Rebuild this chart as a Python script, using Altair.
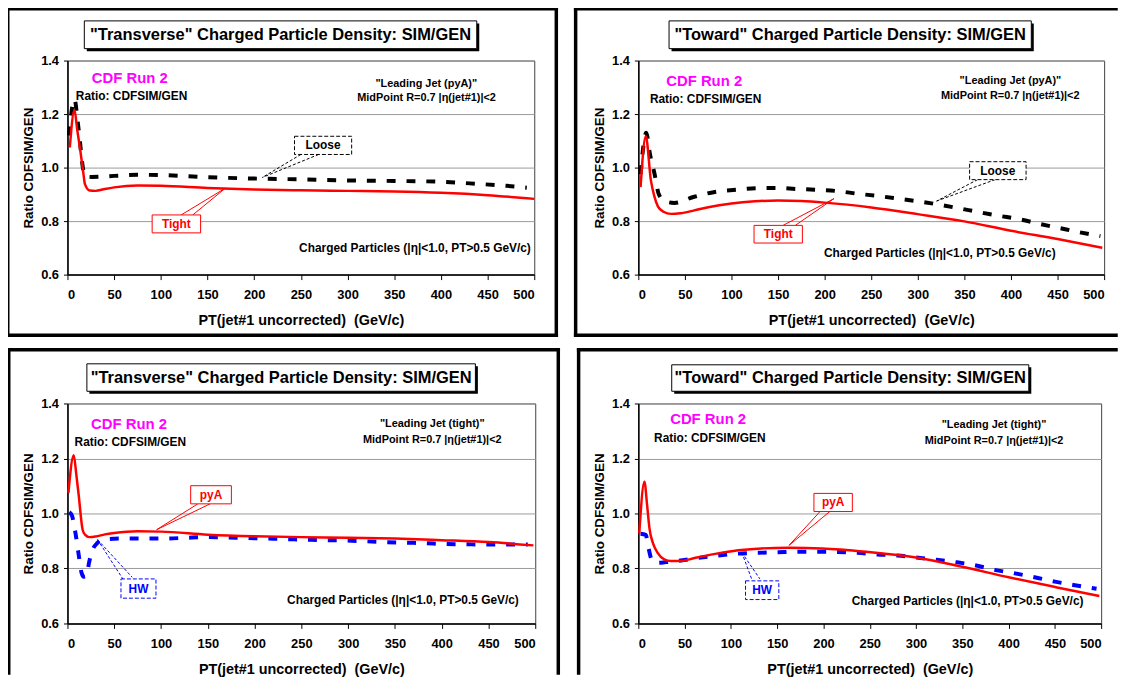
import altair as alt
import pandas as pd

FONT = "Liberation Sans"

# ---------------- data ----------------
# Top-left: "Transverse", Leading Jet (pyA): Tight (red) / Loose (black dashed)
tl_tight_pt = [2.5, 7.5, 10.5, 13.5, 17, 18.7, 24, 30, 40, 50, 75, 100, 150, 200, 250, 300, 350, 400, 450, 500]
tl_tight_ratio = [1.075, 1.215, 1.14, 1.07, 0.98, 0.938, 0.914, 0.913, 0.92, 0.926, 0.933, 0.932, 0.924, 0.918,
                  0.915, 0.913, 0.911, 0.906, 0.897, 0.883]
tl_loose_pt = [1.5, 7.5, 11, 13.5, 15.5, 19, 26, 50, 75, 100, 150, 200, 250, 300, 350, 400, 440, 470, 492]
tl_loose_ratio = [1.12, 1.255, 1.17, 1.093, 1.025, 0.968, 0.965, 0.969, 0.973, 0.972, 0.964, 0.959, 0.956, 0.952,
                  0.95, 0.947, 0.939, 0.932, 0.925]

# Top-right: "Toward", Leading Jet (pyA)
tr_tight_pt = [2.4, 8, 13.5, 17, 21, 27, 35, 45, 60, 75, 100, 125, 150, 175, 200, 250, 300, 350, 400, 450, 498]
tr_tight_ratio = [0.927, 1.117, 0.952, 0.895, 0.855, 0.835, 0.827, 0.829, 0.84, 0.852, 0.866, 0.874, 0.877, 0.875,
                  0.869, 0.851, 0.826, 0.799, 0.764, 0.733, 0.70]
tr_loose_pt = [2.4, 8.5, 12.5, 17.5, 22, 28, 38.7, 59, 82, 105, 127, 149, 170, 192, 214, 236, 257, 279, 300, 322,
               344, 365, 387, 409, 430, 452, 474, 496]
tr_loose_ratio = [0.975, 1.13, 1.05, 0.975, 0.9, 0.875, 0.868, 0.89, 0.909, 0.917, 0.923, 0.924, 0.92, 0.917, 0.912,
                  0.902, 0.894, 0.884, 0.874, 0.862, 0.848, 0.834, 0.82, 0.807, 0.79, 0.774, 0.758, 0.744]

# Bottom-left: "Transverse", Leading Jet (tight): pyA (red) / HW (blue dashed)
bl_pya_pt = [1, 6.7, 9.5, 12, 16.2, 19, 23.2, 30, 40, 50, 75, 100, 150, 200, 250, 300, 350, 400, 450, 498]
bl_pya_ratio = [1.075, 1.212, 1.14, 1.067, 0.941, 0.922, 0.914, 0.916, 0.924, 0.929, 0.935, 0.934, 0.923, 0.917,
                0.914, 0.912, 0.909, 0.903, 0.896, 0.884]
bl_hw_pt = [2, 5, 8.5, 12, 15, 17.5, 20.5, 23, 26, 32, 38, 50, 60, 80, 103, 124, 147, 168, 188, 210, 231, 253,
            274, 296, 317, 339, 360, 382, 403, 425, 446, 468, 492]
bl_hw_ratio = [1.005, 0.99, 0.93, 0.85, 0.785, 0.77, 0.772, 0.82, 0.86, 0.893, 0.904, 0.908, 0.909, 0.909, 0.909,
               0.911, 0.914, 0.913, 0.911, 0.909, 0.907, 0.905, 0.903, 0.902, 0.899, 0.896, 0.894, 0.892, 0.889,
               0.888, 0.887, 0.887, 0.887]

# Bottom-right: "Toward", Leading Jet (tight)
br_pya_pt = [1, 6.6, 9.5, 12, 16, 20.9, 28, 35, 45.8, 61.9, 83, 108, 133, 163, 198.6, 249, 300, 350, 400, 451, 498]
br_pya_ratio = [0.927, 1.115, 1.03, 0.947, 0.89, 0.857, 0.833, 0.827, 0.827, 0.839, 0.853, 0.866, 0.873, 0.875,
                0.873, 0.86, 0.84, 0.806, 0.768, 0.732, 0.70]
br_hw_pt = [2.4, 8, 11, 14, 19, 30, 42, 62, 83, 108, 130, 151, 172, 194, 215, 237, 258, 280, 300, 322, 343, 365,
            385, 407, 428, 450, 470, 495]
br_hw_ratio = [0.926, 0.922, 0.875, 0.835, 0.82, 0.823, 0.827, 0.837, 0.846, 0.854, 0.857, 0.859, 0.861, 0.861,
               0.86, 0.857, 0.851, 0.847, 0.84, 0.832, 0.823, 0.811, 0.795, 0.782, 0.768, 0.752, 0.74, 0.726]

# ---------------- text ----------------
TITLES = ['"Transverse" Charged Particle Density: SIM/GEN',
          '"Toward" Charged Particle Density: SIM/GEN',
          '"Transverse" Charged Particle Density: SIM/GEN',
          '"Toward" Charged Particle Density: SIM/GEN']
JETS = ['"Leading Jet (pyA)"', '"Leading Jet (pyA)"', '"Leading Jet (tight)"', '"Leading Jet (tight)"']
MIDPOINT = "MidPoint R=0.7 |η(jet#1)|<2"
CHARGED = "Charged Particles (|η|<1.0, PT>0.5 GeV/c)"
CDF = "CDF Run 2"
RATIO_TXT = "Ratio: CDFSIM/GEN"
XTITLE = "PT(jet#1 uncorrected) \u00a0(GeV/c)"
YTITLE = "Ratio CDFSIM/GEN"
X_TICKS = list(range(0, 501, 50))
Y_TICKS = [0.6, 0.8, 1.0, 1.2, 1.4]

SERIES = [
    [(tl_loose_pt, tl_loose_ratio, "black"), (tl_tight_pt, tl_tight_ratio, "red")],
    [(tr_loose_pt, tr_loose_ratio, "black"), (tr_tight_pt, tr_tight_ratio, "red")],
    [(bl_hw_pt, bl_hw_ratio, "blue"), (bl_pya_pt, bl_pya_ratio, "red")],
    [(br_hw_pt, br_hw_ratio, "blue"), (br_pya_pt, br_pya_ratio, "red")],
]

# ---------------- layout / styles ----------------
STYLE = {
    "black": dict(color="#000000", strokeWidth=4, strokeDash=[9, 11]),
    "blue": dict(color="#0000ff", strokeWidth=4, strokeDash=[9, 11]),
    "red": dict(color="#ff0000", strokeWidth=2.5),
}
CALLOUT_STYLE = {
    "black": dict(color="#000000", dash=[4, 2]),
    "red": dict(color="#ff0000", dash=None),
    "blue": dict(color="#0000ff", dash=[4, 2]),
}

LAYOUT = [
    dict(w=471, h=216,
         border=[(-60.25, -52.25, 493.25, -52.25), (-60.25, -52.25, -60.25, 277.25),
                 (493.25, -52.25, 493.25, 277.25), (-60.25, 277.25, 493.25, 277.25)],
         tbox=(17, -40, 413, -12),
         cdf=(66.7, 1.333), ratio=(9, 1.267), jet=(384.3, 1.312), mid=(384.6, 1.259), charged=(496.3, 0.701),
         callouts=[
             dict(text="Loose", style="black", box=(243.2, 304.4, 1.049, 1.117),
                  lines=[(250, 1.049, 208.7, 0.963), (269, 1.049, 208.7, 0.963)]),
             dict(text="Tight", style="red", box=(90.7, 142.6, 0.756, 0.823),
                  lines=[(121.8, 0.823, 169.1, 0.923), (134.2, 0.823, 169.1, 0.923)]),
         ]),
    dict(w=470, h=216,
         border=[(-63.25, -52.25, 482, -52.25), (-63.25, -52.25, -63.25, 277.25), (-63.25, 277.25, 482, 277.25)],
         tbox=(31, -40, 396.5, -12),
         cdf=(70.7, 1.323), ratio=(12.4, 1.256), jet=(399.4, 1.325), mid=(399.2, 1.269), charged=(448, 0.68),
         callouts=[
             dict(text="Loose", style="black", box=(355.6, 416.2, 0.955, 1.022),
                  lines=[(364.2, 0.955, 320.2, 0.875), (383, 0.955, 320.2, 0.875)]),
             dict(text="Tight", style="red", box=(124.2, 176.1, 0.718, 0.784),
                  lines=[(155.4, 0.784, 210, 0.884), (168.5, 0.784, 210, 0.884)]),
         ]),
    dict(w=472, h=222,
         border=[(-59.25, -54.25, 495.25, -54.25), (-59.25, -54.25, -59.25, 272),
                 (495.25, -54.25, 495.25, 272)],
         tbox=(19.6, -40, 411.6, -12.3),
         cdf=(65.8, 1.325), ratio=(7.6, 1.259), jet=(389.9, 1.325), mid=(389.9, 1.267), charged=(482.4, 0.686),
         callouts=[
             dict(text="pyA", style="red", box=(131.7, 175.2, 1.035, 1.101),
                  lines=[(139.3, 1.035, 95.3, 0.941), (152.5, 1.035, 95.3, 0.941)]),
             dict(text="HW", style="blue", box=(57.2, 94.6, 0.692, 0.762),
                  lines=[(32.1, 0.905, 59.2, 0.762), (32.1, 0.905, 69.2, 0.768)]),
         ]),
    dict(w=467, h=222,
         border=[(-60.25, -54.25, 482, -54.25), (-60.25, -54.25, -60.25, 272)],
         tbox=(33.7, -39, 394, -12.3),
         cdf=(75.4, 1.343), ratio=(17, 1.274), jet=(384.3, 1.321), mid=(384.3, 1.264), charged=(480.9, 0.682),
         callouts=[
             dict(text="pyA", style="red", box=(189.7, 231.2, 1.007, 1.073),
                  lines=[(196.3, 1.007, 162.8, 0.884), (206.8, 1.007, 162.8, 0.884)]),
             dict(text="HW", style="blue", box=(115.8, 151.8, 0.687, 0.755),
                  lines=[(111.8, 0.858, 122.4, 0.762), (111.8, 0.858, 131.3, 0.762)]),
         ]),
]

ONE = pd.DataFrame({"k": [0]})


def xenc():
    return alt.X("pt:Q", scale=alt.Scale(domain=[0, 500], nice=False, zero=False),
                 axis=alt.Axis(values=X_TICKS, title=XTITLE, grid=False, tickSize=5,
                               labelPadding=9, titlePadding=12, titleFontSize=14.5))


def yenc():
    return alt.Y("ratio:Q", scale=alt.Scale(domain=[0.6, 1.4], nice=False, zero=False),
                 axis=alt.Axis(values=Y_TICKS, format=".1f", title=YTITLE, grid=True, tickSize=4,
                               labelPadding=5, titlePadding=5, gridColor="#9a9a9a", gridWidth=1,
                               titleFontSize=13.5))


def text_at(x, y, t, **kw):
    df = pd.DataFrame({"pt": [x], "ratio": [y], "t": [t]})
    return alt.Chart(df).mark_text(font=FONT, fontWeight="bold", baseline="middle", **kw).encode(
        x=xenc(), y=yenc(), text="t:N")


def make_panel(i):
    c = LAYOUT[i]
    layers = []
    # outer thick frame
    for (x1, y1, x2, y2) in c["border"]:
        layers.append(alt.Chart(ONE).mark_rule(color="black", strokeWidth=3.5, strokeCap="square").encode(
            x=alt.value(x1), y=alt.value(y1), x2=alt.value(x2), y2=alt.value(y2)))
    # title box with shadow
    bx1, by1, bx2, by2 = c["tbox"]
    layers.append(alt.Chart(ONE).mark_rect(color="black").encode(
        x=alt.value(bx1 + 2.5), x2=alt.value(bx2 + 2.5), y=alt.value(by1 + 2.5), y2=alt.value(by2 + 2.5)))
    layers.append(alt.Chart(ONE).mark_rect(fill="white", stroke="black", strokeWidth=1).encode(
        x=alt.value(bx1), x2=alt.value(bx2), y=alt.value(by1), y2=alt.value(by2)))
    layers.append(alt.Chart(ONE).mark_text(text=TITLES[i], font=FONT, fontSize=16.6, fontWeight="bold",
                                           color="black", baseline="middle", align="center").encode(
        x=alt.value((bx1 + bx2) / 2), y=alt.value((by1 + by2) / 2 + 0.5)))
    # curves
    for pts, vals, key in SERIES[i]:
        df = pd.DataFrame({"pt": pts, "ratio": vals})
        layers.append(alt.Chart(df).mark_line(interpolate="monotone", **STYLE[key]).encode(x=xenc(), y=yenc()))
    # annotations
    layers.append(text_at(c["cdf"][0], c["cdf"][1], CDF, fontSize=15, color="#ff00ff", align="center"))
    layers.append(text_at(c["ratio"][0], c["ratio"][1], RATIO_TXT, fontSize=12, color="black", align="left"))
    layers.append(text_at(c["jet"][0], c["jet"][1], JETS[i], fontSize=11, color="black", align="center"))
    layers.append(text_at(c["mid"][0], c["mid"][1], MIDPOINT, fontSize=11, color="black", align="center"))
    layers.append(text_at(c["charged"][0], c["charged"][1], CHARGED, fontSize=12, color="black", align="right"))
    # callouts
    for co in c["callouts"]:
        st = CALLOUT_STYLE[co["style"]]
        ldf = pd.DataFrame(co["lines"], columns=["pt", "ratio", "pt2", "ratio2"])
        rule_kw = dict(color=st["color"], strokeWidth=1)
        if st["dash"]:
            rule_kw["strokeDash"] = [3, 2]
        layers.append(alt.Chart(ldf).mark_rule(**rule_kw).encode(
            x=xenc(), y=yenc(), x2="pt2:Q", y2="ratio2:Q"))
        x1, x2, y1, y2 = co["box"]
        bdf = pd.DataFrame({"pt": [x1], "pt2": [x2], "ratio": [y1], "ratio2": [y2]})
        rect_kw = dict(fill="white", stroke=st["color"], strokeWidth=1)
        if st["dash"]:
            rect_kw["strokeDash"] = st["dash"]
        layers.append(alt.Chart(bdf).mark_rect(**rect_kw).encode(
            x=xenc(), x2="pt2:Q", y=yenc(), y2="ratio2:Q"))
        layers.append(text_at((x1 + x2) / 2, (y1 + y2) / 2, co["text"], fontSize=12, color=st["color"],
                              align="center"))
    return alt.layer(*layers).properties(width=c["w"], height=c["h"])


top = alt.hconcat(make_panel(0), make_panel(1), spacing=12)
bottom = alt.hconcat(make_panel(2), make_panel(3), spacing=13)
chart = alt.vconcat(top, bottom, spacing=7).properties(
    padding={"left": -4, "top": -6, "right": 0, "bottom": 0}, background="white"
).configure_view(
    stroke="#404040", strokeWidth=1
).configure_axis(
    labelFont=FONT, labelFontSize=13, labelFontWeight="bold", labelColor="black",
    titleFont=FONT, titleFontSize=13.5, titleFontWeight="bold", titleColor="black",
    tickColor="black", domainColor="black", domainWidth=1.5, labelOverlap=False
)

chart.save("out.html", embed_options={"renderer": "svg", "actions": False})
